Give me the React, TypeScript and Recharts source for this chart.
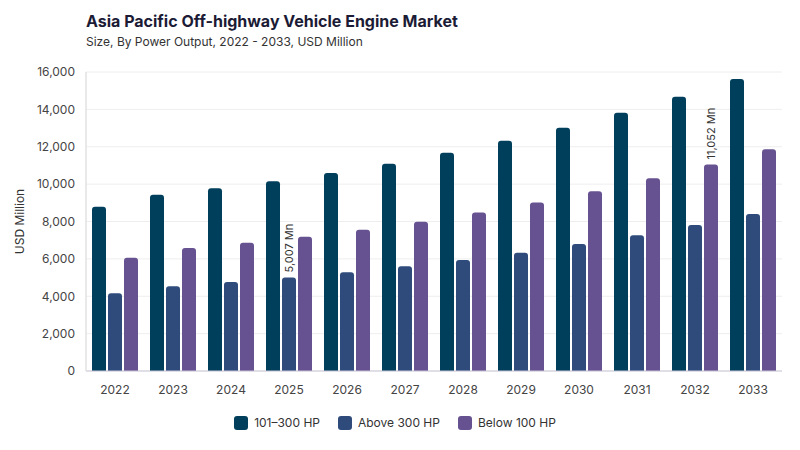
import React from 'react';
import { BarChart, Bar, XAxis, YAxis, CartesianGrid, LabelList } from 'recharts';

const years = ['2022', '2023', '2024', '2025', '2026', '2027', '2028', '2029', '2030', '2031', '2032', '2033'];
const hp101to300 = [8790, 9430, 9780, 10150, 10590, 11090, 11680, 12320, 13020, 13820, 14680, 15620];
const above300 = [4160, 4540, 4760, 5007, 5280, 5600, 5940, 6330, 6790, 7270, 7810, 8400];
const below100 = [6060, 6580, 6860, 7190, 7560, 7990, 8480, 9020, 9620, 10320, 11052, 11870];
const yTicks = [0, 2000, 4000, 6000, 8000, 10000, 12000, 14000, 16000];

const seriesNames = ['101–300 HP', 'Above 300 HP', 'Below 100 HP'];
const colors = ['#003f5c', '#2f4b7c', '#665191'];

const data = years.map((y, i) => ({
  year: y,
  a: hp101to300[i],
  b: above300[i],
  c: below100[i],
}));

const FONT = 'Inter, "Noto Sans", sans-serif';

const makeLabel = (targetIndex: number) => (props: any) => {
  const { x, y, width, value, index } = props;
  if (index !== targetIndex) return null;
  const cx = Number(x) + Number(width) / 2;
  const ty = Number(y) - 5;
  return (
    <text
      x={cx}
      y={ty}
      transform={`rotate(-90, ${cx}, ${ty})`}
      textAnchor="start"
      dominantBaseline="central"
      fontSize={11}
      fill="#333"
      fontFamily={FONT}
    >
      {`${Number(value).toLocaleString('en-US')} Mn`}
    </text>
  );
};

export default function App() {
  return (
    <div style={{ position: 'absolute', left: 0, top: 0, width: 800, height: 450, background: '#fff', fontFamily: FONT }}>
      <div style={{ position: 'absolute', left: 86, top: 11, fontSize: 16, fontWeight: 700, color: '#1b1b35' }}>
        Asia Pacific Off-highway Vehicle Engine Market
      </div>
      <div style={{ position: 'absolute', left: 86, top: 34, fontSize: 12, color: '#333' }}>
        Size, By Power Output, 2022 - 2033, USD Million
      </div>
      <div style={{ position: 'absolute', left: 0, top: 0 }}>
        <BarChart
          width={800}
          height={450}
          data={data}
          margin={{ top: 72, right: 18, bottom: 49, left: 26 }}
          barSize={14}
          barGap={2}
        >
          <CartesianGrid vertical={false} stroke="#eeeeee" />
          <XAxis
            dataKey="year"
            height={30}
            tickLine={false}
            axisLine={{ stroke: '#c9c6d6' }}
            tickMargin={8}
            tick={{ fontSize: 12, fill: '#444', fontFamily: FONT }}
          />
          <YAxis
            width={60}
            domain={[0, 16000]}
            ticks={yTicks}
            tickLine={false}
            axisLine={{ stroke: '#e2e2e2', strokeWidth: 1.5 }}
            tickMargin={5}
            tick={{ fontSize: 12, fill: '#444', fontFamily: FONT }}
            tickFormatter={(v: number) => v.toLocaleString('en-US')}
            label={{ value: 'USD Million', angle: -90, position: 'insideLeft', offset: -6, style: { fontSize: 12, fill: '#333', fontFamily: FONT, textAnchor: 'middle' } }}
          />
          <Bar dataKey="a" name={seriesNames[0]} fill={colors[0]} radius={[3, 3, 0, 0]} isAnimationActive={false} />
          <Bar dataKey="b" name={seriesNames[1]} fill={colors[1]} radius={[3, 3, 0, 0]} isAnimationActive={false}>
            <LabelList dataKey="b" content={makeLabel(3)} />
          </Bar>
          <Bar dataKey="c" name={seriesNames[2]} fill={colors[2]} radius={[3, 3, 0, 0]} isAnimationActive={false}>
            <LabelList dataKey="c" content={makeLabel(10)} />
          </Bar>
        </BarChart>
      </div>
      <div style={{ position: 'absolute', left: 0, top: 415, width: 790, display: 'flex', justifyContent: 'center', gap: 18, fontSize: 12, color: '#333' }}>
        {seriesNames.map((n, i) => (
          <div key={n} style={{ display: 'flex', alignItems: 'center' }}>
            <span style={{ display: 'inline-block', width: 14, height: 14, borderRadius: 3, background: colors[i], marginRight: 6 }} />
            <span>{n}</span>
          </div>
        ))}
      </div>
    </div>
  );
}
